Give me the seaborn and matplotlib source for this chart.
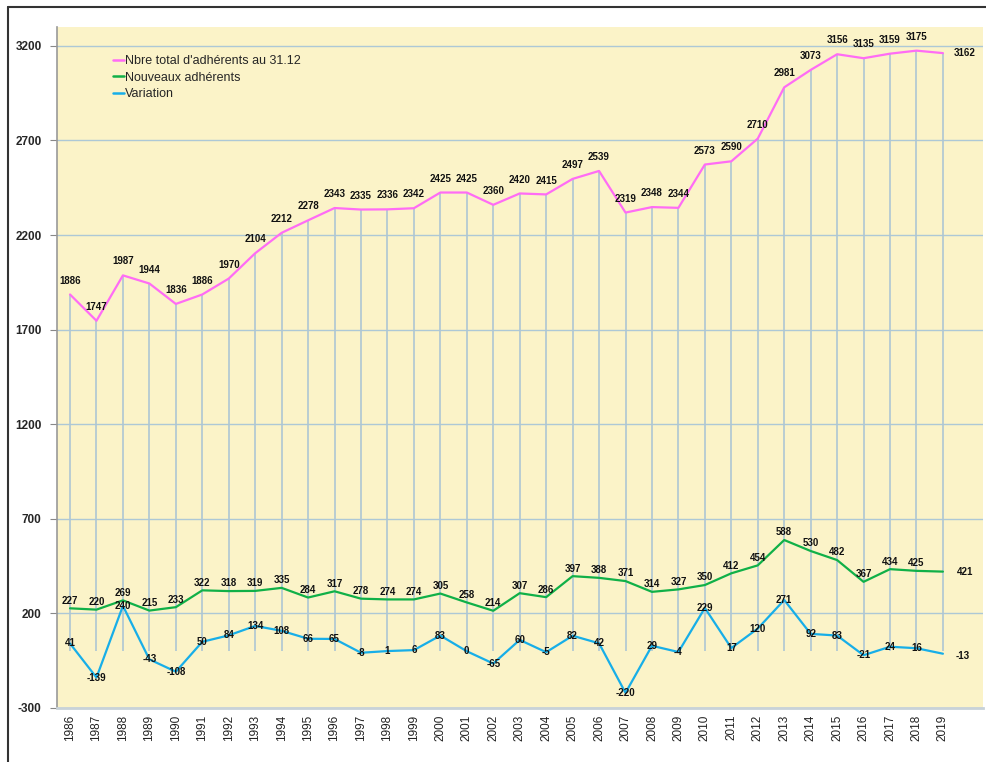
import matplotlib
matplotlib.use("Agg")
import matplotlib.pyplot as plt
import seaborn as sns
import pandas as pd
from matplotlib.lines import Line2D

years = list(range(1986, 2020))
total = [1886, 1747, 1987, 1944, 1836, 1886, 1970, 2104, 2212, 2278, 2343, 2335, 2336, 2342,
         2425, 2425, 2360, 2420, 2415, 2497, 2539, 2319, 2348, 2344, 2573, 2590, 2710, 2981,
         3073, 3156, 3135, 3159, 3175, 3162]
nouveaux = [227, 220, 269, 215, 233, 322, 318, 319, 335, 284, 317, 278, 274, 274, 305, 258,
            214, 307, 286, 397, 388, 371, 314, 327, 350, 412, 454, 588, 530, 482, 367, 434,
            425, 421]
variation = [41, -139, 240, -43, -108, 50, 84, 134, 108, 66, 65, -8, 1, 6, 83, 0, -65, 60,
             -5, 82, 42, -220, 29, -4, 229, 17, 120, 271, 92, 83, -21, 24, 16, -13]
series_names = ["Nbre total d'adhérents au 31.12", "Nouveaux adhérents", "Variation"]
yticks = list(range(-300, 3201, 500))

colors = ["#ff6cf5", "#10b048", "#17aee8"]

sns.set_theme(style="white")
plt.rcParams['font.family'] = ['Liberation Sans', 'DejaVu Sans']

pos = list(range(len(years)))
df = pd.concat([
    pd.DataFrame({"pos": pos, "value": vals, "series": name})
    for name, vals in zip(series_names, [total, nouveaux, variation])
])

fig = plt.figure(figsize=(9.87, 7.62), dpi=100)
fig.patch.set_facecolor("white")
ax = fig.add_axes([56.8 / 987, 54 / 762, (982.6 - 56.8) / 987, (708 - 27) / 762])
ax.set_facecolor("#fbf3c8")

# horizontal gridlines
for yv in yticks:
    ax.axhline(yv, color="#adc8d6", lw=1.0, zorder=0.5)

# drop lines
ax.vlines(pos, 0, total, color="#adc6d4", lw=1.2, zorder=1)

sns.lineplot(data=df, x="pos", y="value", hue="series", palette=colors,
             hue_order=series_names, lw=1.6, ax=ax, zorder=3, legend=True)

ax.set_xlim(-0.5, 34.5)
ax.set_ylim(-300, 3300)
ax.set_yticks(yticks)
ax.set_yticklabels([str(v) for v in yticks], fontsize=8.5, fontweight="bold")
ax.set_xticks(pos)
ax.set_xticklabels([str(y) for y in years], rotation=90, fontsize=8.5, color="#222222")
ax.tick_params(axis="y", length=5, width=0.8, color="#888888", pad=6, left=True)
ax.tick_params(axis="x", length=0, pad=5)
ax.set_xlabel("")
ax.set_ylabel("")

for s in ["top", "right"]:
    ax.spines[s].set_visible(False)
ax.spines["left"].set_color("#999999")
ax.spines["left"].set_linewidth(1.2)
ax.spines["bottom"].set_color("#c8d2d8")
ax.spines["bottom"].set_linewidth(2)

lab_kw = dict(fontsize=7, fontweight="bold", ha="center", va="center",
              color="#111111", zorder=5, textcoords="offset points")
n = len(years)
for i in range(n):
    if i == n - 1:
        ax.annotate(str(total[i]), (pos[i], total[i]), xytext=(16, 0), **lab_kw)
        ax.annotate(str(nouveaux[i]), (pos[i], nouveaux[i]), xytext=(16, 0), **lab_kw)
        ax.annotate(str(variation[i]), (pos[i], variation[i]), xytext=(14, -2), **lab_kw)
    else:
        ax.annotate(str(total[i]), (pos[i], total[i]), xytext=(0, 10), **lab_kw)
        ax.annotate(str(nouveaux[i]), (pos[i], nouveaux[i]), xytext=(0, 5.5), **lab_kw)
        ax.annotate(str(variation[i]), (pos[i], variation[i]), xytext=(0, 0), **lab_kw)

leg = ax.legend(loc="upper left", bbox_to_anchor=(0.055, 0.966), frameon=False,
                fontsize=9, handlelength=0.9, handletextpad=0.1, labelspacing=0.35,
                borderaxespad=0)
for line in leg.get_lines():
    line.set_linewidth(1.8)

# outer frame
fig.add_artist(Line2D([8 / 987, 8 / 987], [0, 1 - 7 / 762], transform=fig.transFigure,
                      color="#333333", lw=1.5))
fig.add_artist(Line2D([8 / 987, 1], [1 - 7 / 762, 1 - 7 / 762], transform=fig.transFigure,
                      color="#333333", lw=1.5))

fig.savefig("out.png", dpi=100)
